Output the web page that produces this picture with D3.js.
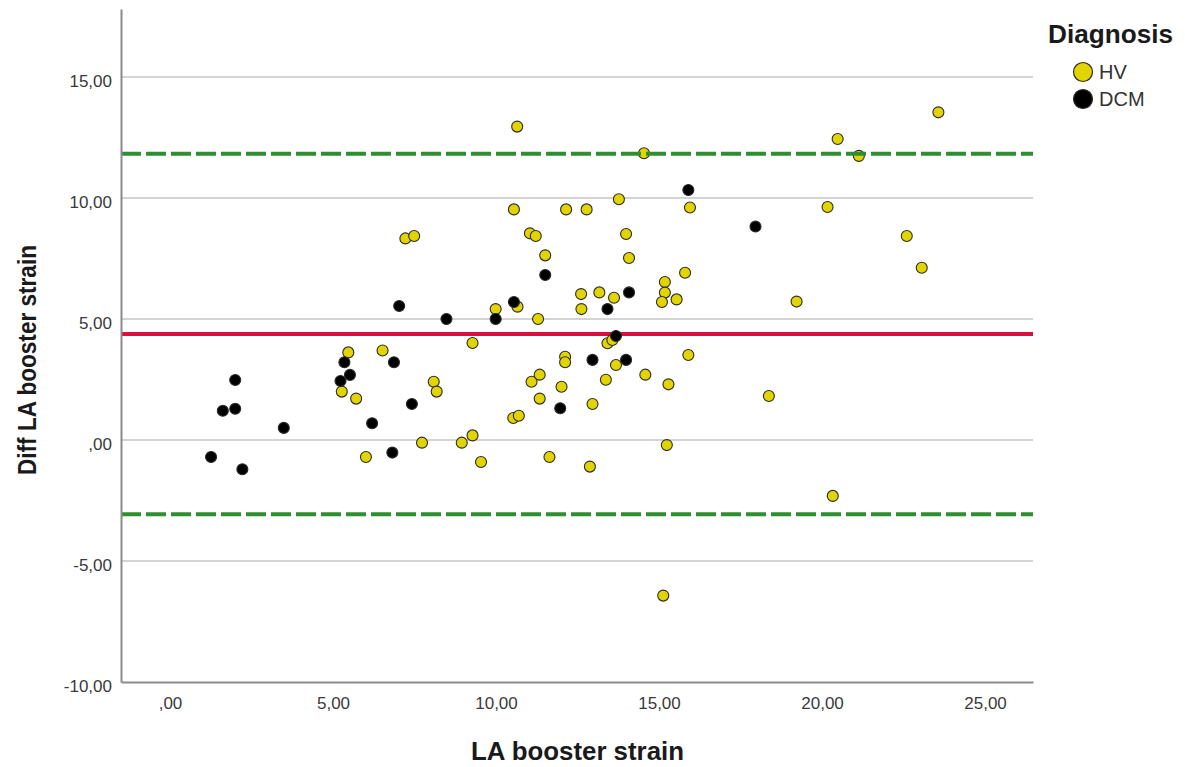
<!DOCTYPE html>
<html>
<head>
<meta charset="utf-8">
<script src="https://cdn.jsdelivr.net/npm/d3@7"></script>
<style>
  html, body { margin: 0; padding: 0; background: #ffffff; }
  svg { display: block; }
  text { font-family: "Liberation Sans", Arial, sans-serif; }
</style>
</head>
<body>
<svg id="chart" width="1185" height="767"></svg>
<script>
// Healthy volunteers (HV): LA booster strain vs. difference
const hvBooster = [5.47, 5.27, 5.71, 6.52, 8.09, 8.18, 6.01, 7.73, 8.95, 9.28, 9.54, 9.28,
  9.99, 10.66, 11.29, 11.09, 11.34, 11.34, 12.01, 12.12, 12.12, 10.53, 10.70, 11.64,
  10.65, 10.55, 12.15, 7.22, 7.49, 11.04, 11.22, 11.51, 14.54, 13.77, 12.78, 15.95,
  13.99, 14.08, 15.80, 15.18, 15.18, 12.61, 13.17, 13.62, 15.09, 15.54, 12.62, 13.42,
  13.57, 13.68, 15.90, 14.58, 13.37, 15.29, 12.96, 15.24, 12.88, 23.57, 20.48, 21.13,
  20.17, 22.60, 23.06, 19.22, 18.37, 20.33, 15.13];
const hvDiff = [3.62, 2.00, 1.71, 3.70, 2.41, 2.00, -0.70, -0.11, -0.11, 0.19, -0.91, 4.01,
  5.41, 5.51, 5.00, 2.41, 2.70, 1.71, 2.20, 3.44, 3.21, 0.91, 1.00, -0.70,
  12.95, 9.53, 9.53, 8.33, 8.43, 8.54, 8.43, 7.63, 11.85, 9.95, 9.53, 9.61,
  8.51, 7.52, 6.91, 6.53, 6.09, 6.03, 6.10, 5.88, 5.70, 5.81, 5.41, 4.00,
  4.13, 3.10, 3.51, 2.70, 2.49, 2.30, 1.49, -0.21, -1.10, 13.54, 12.44, 11.74,
  9.63, 8.43, 7.12, 5.72, 1.82, -2.31, -6.43];

// Dilated cardiomyopathy (DCM)
const dcmBooster = [1.26, 1.62, 2.00, 2.00, 2.22, 3.49, 5.35, 5.52, 5.23, 6.87, 6.20, 6.82,
  7.42, 7.03, 8.48, 9.99, 10.55, 11.51, 11.97, 12.96, 13.42, 13.68, 13.99, 14.08,
  15.90, 17.96];
const dcmDiff = [-0.70, 1.21, 1.29, 2.48, -1.21, 0.50, 3.21, 2.69, 2.44, 3.21, 0.69, -0.52,
  1.49, 5.54, 5.00, 5.00, 5.70, 6.82, 1.31, 3.31, 5.41, 4.30, 3.31, 6.10,
  10.33, 8.82];

// Bland-Altman reference lines
const meanDiff = 4.38;
const limitsOfAgreement = [11.83, -3.07];

const xTicks = [0, 5, 10, 15, 20, 25];
const yTicks = [-10, -5, 0, 5, 10, 15];
const groupNames = ["HV", "DCM"];
const groupColors = ["#e2d400", "#000000"];

const svg = d3.select("#chart");
const plotLeft = 121, plotRight = 1033, plotTop = 9, plotBottom = 682;

const x = d3.scaleLinear().domain([-1.503, 26.472]).range([plotLeft, plotRight]);
const y = d3.scaleLinear().domain([-10, 17.81]).range([plotBottom, plotTop]);

// Comma decimal, plain hyphen minus, leading zero dropped (",00")
const loc = d3.formatLocale({ decimal: ",", thousands: ".", grouping: [3], currency: ["", ""], minus: "-" });
const f2 = loc.format(".2f");
const fmt = v => f2(v).replace(/^0,/, ",").replace(/^-0,/, "-,");

// Horizontal grid lines
svg.append("g")
  .selectAll("line")
  .data(yTicks.filter(v => v > -10))
  .join("line")
  .attr("x1", plotLeft).attr("x2", plotRight)
  .attr("y1", d => y(d)).attr("y2", d => y(d))
  .attr("stroke", "#d4d4d4")
  .attr("stroke-width", 2);

// Mean difference
svg.append("line")
  .attr("x1", plotLeft).attr("x2", plotRight)
  .attr("y1", y(meanDiff)).attr("y2", y(meanDiff))
  .attr("stroke", "#d7103f")
  .attr("stroke-width", 4);

// Points
const pts = svg.append("g");
const hv = hvBooster.map((b, i) => ({ b, d: hvDiff[i], g: 0 }));
const dcm = dcmBooster.map((b, i) => ({ b, d: dcmDiff[i], g: 1 }));
pts.selectAll("circle")
  .data(hv.concat(dcm))
  .join("circle")
  .attr("cx", d => x(d.b))
  .attr("cy", d => y(d.d))
  .attr("r", 5.5)
  .attr("fill", d => groupColors[d.g])
  .attr("stroke", "#2b2b2b")
  .attr("stroke-width", 1.1);

// Limits of agreement
svg.append("g")
  .selectAll("line")
  .data(limitsOfAgreement)
  .join("line")
  .attr("x1", plotLeft).attr("x2", plotRight)
  .attr("y1", d => y(d)).attr("y2", d => y(d))
  .attr("stroke", "#2e8f2e")
  .attr("stroke-width", 4)
  .attr("stroke-dasharray", "20,5");

// Axes
const xAxis = d3.axisBottom(x).tickValues(xTicks).tickFormat(fmt).tickSize(0).tickPadding(15);
const yAxis = d3.axisLeft(y).tickValues(yTicks).tickFormat(fmt).tickSize(0).tickPadding(9);

const gx = svg.append("g").attr("transform", `translate(0,${plotBottom})`).call(xAxis);
const gy = svg.append("g").attr("transform", `translate(${plotLeft},0)`).call(yAxis);
[gx, gy].forEach(g => {
  g.select(".domain").attr("stroke", "#8a8a8a").attr("stroke-width", 2);
  g.selectAll(".tick text")
    .attr("fill", "#3a3a3a")
    .style("font-size", "17px")
    .style("font-family", "'Liberation Sans', Arial, sans-serif");
});
gy.selectAll(".tick text").attr("y", 4).attr("dy", "0.35em");

// Axis titles
svg.append("text")
  .attr("x", (plotLeft + plotRight) / 2 + 0.5)
  .attr("y", 760)
  .attr("text-anchor", "middle")
  .attr("fill", "#1a1a1a")
  .attr("textLength", 213)
  .attr("lengthAdjust", "spacingAndGlyphs")
  .style("font-size", "26px")
  .style("font-weight", "bold")
  .text("LA booster strain");

svg.append("text")
  .attr("transform", "translate(36,360) rotate(-90)")
  .attr("text-anchor", "middle")
  .attr("fill", "#1a1a1a")
  .attr("textLength", 230)
  .attr("lengthAdjust", "spacingAndGlyphs")
  .style("font-size", "25px")
  .style("font-weight", "bold")
  .text("Diff LA booster strain");

// Legend
const legend = svg.append("g");
legend.append("text")
  .attr("x", 1048).attr("y", 43)
  .attr("fill", "#1a1a1a")
  .attr("textLength", 125)
  .attr("lengthAdjust", "spacingAndGlyphs")
  .style("font-size", "25px")
  .style("font-weight", "bold")
  .text("Diagnosis");
const items = legend.selectAll("g.item")
  .data(groupNames)
  .join("g")
  .attr("class", "item")
  .attr("transform", (d, i) => `translate(1083,${72 + i * 27})`);
items.append("circle")
  .attr("r", 9.5)
  .attr("fill", (d, i) => groupColors[i])
  .attr("stroke", "#2b2b2b")
  .attr("stroke-width", 1.2);
items.append("text")
  .attr("x", 16).attr("dy", "0.36em")
  .attr("fill", "#333333")
  .style("font-size", "20px")
  .text(d => d);
</script>
</body>
</html>
